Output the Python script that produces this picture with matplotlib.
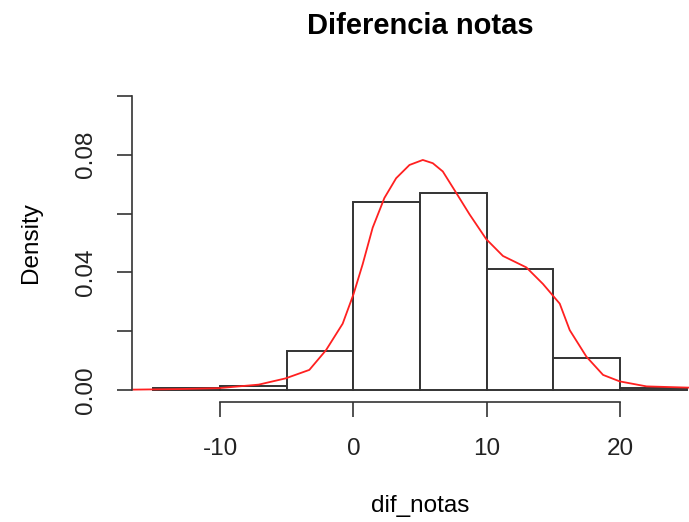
import numpy as np
import matplotlib.pyplot as plt

plt.rcParams['font.family'] = ['Liberation Sans', 'DejaVu Sans']
plt.rcParams['axes.unicode_minus'] = False

# histogram (density scale), breaks every 5
breaks = [-15, -10, -5, 0, 5, 10, 15, 20, 25]
density = [0.0007, 0.0015, 0.0134, 0.0638, 0.0670, 0.0412, 0.0108, 0.0007]

# kernel density curve
dens_x = [-16.5, -13.0, -10.1, -7.1, -5.1, -3.3, -2.05, -0.8, 0.02, 0.7, 1.45,
          2.33, 3.21, 4.21, 5.21, 5.96, 6.71, 7.72, 8.72, 9.97, 11.22, 12.98,
          14.22, 15.48, 16.23, 17.48, 18.73, 19.98, 21.99, 25.0, 27.0]
dens_y = [0.0002, 0.0004, 0.0007, 0.0019, 0.0040, 0.0069, 0.0136, 0.0226,
          0.0327, 0.0428, 0.0552, 0.0653, 0.0720, 0.0765, 0.0782, 0.0771,
          0.0743, 0.0670, 0.0597, 0.0513, 0.0456, 0.0417, 0.0361, 0.0294,
          0.0204, 0.0114, 0.0052, 0.0030, 0.0013, 0.0009, 0.0006]

fig = plt.figure(figsize=(6.89, 5.22), dpi=100)
ax = fig.add_axes([132 / 689, 120 / 522, 576 / 689, 318 / 522])

lefts = np.array(breaks[:-1])
widths = np.diff(breaks)
ax.bar(lefts, density, width=widths, align='edge', facecolor='white',
       edgecolor='#333333', linewidth=1.4)
ax.plot(dens_x, dens_y, color='#ff2020', linewidth=1.3)

ax.set_xlim(-16.6, 26.6)
ax.set_ylim(-0.0040, 0.104)

for s in ['top', 'right']:
    ax.spines[s].set_visible(False)
ax.spines['bottom'].set_bounds(-10, 20)
ax.spines['left'].set_bounds(0, 0.10)
for s in ['bottom', 'left']:
    ax.spines[s].set_color('#333333')
    ax.spines[s].set_linewidth(1.2)

ax.set_xticks([-10, 0, 10, 20])
ax.set_yticks([0, 0.02, 0.04, 0.06, 0.08, 0.10])
ax.set_yticklabels(['0.00', '', '0.04', '', '0.08', ''], rotation=90, va='center')
ax.tick_params(axis='both', direction='out', length=11, width=1.2,
               color='#333333', labelsize=17.5, labelcolor='#222222', pad=14)
ax.tick_params(axis='x', pad=15)

ax.set_title('Diferencia notas', fontsize=21, fontweight='bold', pad=36)
ax.set_xlabel('dif_notas', fontsize=17.5, labelpad=25)
ax.set_ylabel('Density', fontsize=17.5, labelpad=24)

fig.savefig('out.png', dpi=100)
